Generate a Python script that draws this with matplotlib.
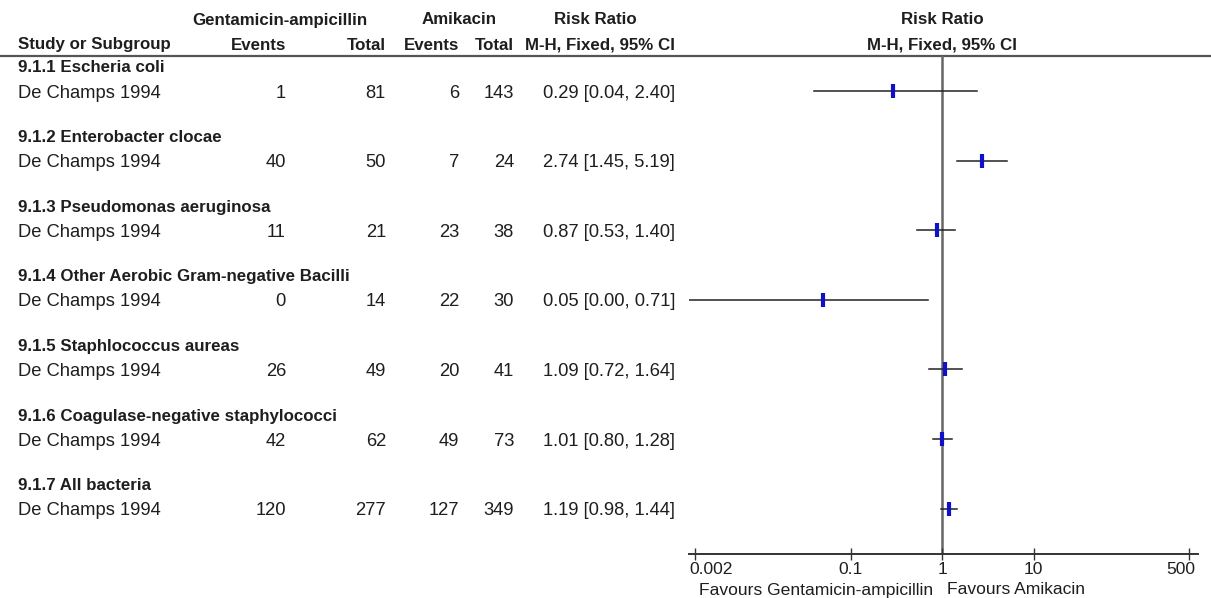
import matplotlib
matplotlib.use("Agg")
import matplotlib.pyplot as plt
import numpy as np

# ---- data -------------------------------------------------------------
subgroups = [
    "9.1.1 Escheria coli",
    "9.1.2 Enterobacter clocae",
    "9.1.3 Pseudomonas aeruginosa",
    "9.1.4 Other Aerobic Gram-negative Bacilli",
    "9.1.5 Staphlococcus aureas",
    "9.1.6 Coagulase-negative staphylococci",
    "9.1.7 All bacteria",
]
study = "De Champs 1994"
gent_events = [1, 40, 11, 0, 26, 42, 120]
gent_total = [81, 50, 21, 14, 49, 62, 277]
amik_events = [6, 7, 23, 22, 20, 49, 127]
amik_total = [143, 24, 38, 30, 41, 73, 349]
rr = [0.29, 2.74, 0.87, 0.05, 1.09, 1.01, 1.19]
ci_low = [0.04, 1.45, 0.53, 0.00, 0.72, 0.80, 0.98]
ci_high = [2.40, 5.19, 1.40, 0.71, 1.64, 1.28, 1.44]
tick_values = [0.002, 0.1, 1, 10, 500]
tick_labels = ["0.002", "0.1", "1", "10", "500"]
favours_left = "Favours Gentamicin-ampicillin"
favours_right = "Favours Amikacin"

# ---- fonts ------------------------------------------------------------
table_font = ["Liberation Sans", "DejaVu Sans"]
bold_fs, reg_fs_tab = 12.2, 13.2
regular = ["Liberation Sans", "DejaVu Sans"]
txt = "#1e1e1e"

# ---- figure -----------------------------------------------------------
W, H = 1211, 598
fig = plt.figure(figsize=(W / 100, H / 100), dpi=100)
fig.patch.set_facecolor("white")

# text layer in pixel coordinates
tx = fig.add_axes([0, 0, 1, 1])
tx.set_xlim(0, W)
tx.set_ylim(H, 0)
tx.axis("off")

def put(x, y, s, ha="left", bold=False, fam=None, size=None):
    fam = table_font if fam is None else fam
    size = (bold_fs if bold else reg_fs_tab) if size is None else size
    tx.text(x, y, s, ha=ha, va="center", fontsize=size, family=fam,
            fontweight="bold" if bold else "normal", color=txt)

# header
put(280, 20, "Gentamicin-ampicillin", ha="center", bold=True)
put(459, 20, "Amikacin", ha="center", bold=True)
put(595, 20, "Risk Ratio", ha="center", bold=True)
put(942, 20, "Risk Ratio", ha="center", bold=True)
put(18, 45, "Study or Subgroup", bold=True)
put(286, 45, "Events", ha="right", bold=True)
put(386, 45, "Total", ha="right", bold=True)
put(459, 45, "Events", ha="right", bold=True)
put(514, 45, "Total", ha="right", bold=True)
put(675, 45, "M-H, Fixed, 95% CI", ha="right", bold=True)
put(942, 45, "M-H, Fixed, 95% CI", ha="center", bold=True)
tx.plot([0, W], [55.5, 55.5], color="#555555", lw=1.6, solid_capstyle="butt")

row_y = [91 + 69.6 * i for i in range(len(subgroups))]
for i, y in enumerate(row_y):
    put(18, y - 23, subgroups[i], bold=True)
    put(18, y + 2, study)
    put(286, y + 2, str(gent_events[i]), ha="right")
    put(386, y + 2, str(gent_total[i]), ha="right")
    put(459, y + 2, str(amik_events[i]), ha="right")
    put(514, y + 2, str(amik_total[i]), ha="right")
    put(675, y + 2, f"{rr[i]:.2f} [{ci_low[i]:.2f}, {ci_high[i]:.2f}]", ha="right")

# ---- forest panel -----------------------------------------------------
x0, x1 = 689, 1198          # pixel extent of the scale line
y_top, y_axis = 56, 554
lo_lim, hi_lim = 10 ** -2.765, 10 ** 2.797
ax = fig.add_axes([x0 / W, 1 - y_axis / H, (x1 - x0) / W, (y_axis - y_top) / H])
ax.set_xscale("log")
ax.set_xlim(lo_lim, hi_lim)
ax.set_ylim(y_axis, y_top)
ax.patch.set_alpha(0)
for s in ("top", "left", "right"):
    ax.spines[s].set_visible(False)
ax.spines["bottom"].set_color("#333333")
ax.spines["bottom"].set_linewidth(1.4)
ax.set_yticks([])
ax.set_xticks(tick_values)
ax.set_xticklabels([])
ax.xaxis.set_minor_locator(matplotlib.ticker.NullLocator())
ax.tick_params(axis="x", direction="inout", length=9, width=1.0, color="#333333")

ax.axvline(1, color="#666666", lw=1.8, zorder=1)
for i, y in enumerate(row_y):
    lo = max(ci_low[i], lo_lim)
    ax.plot([lo, ci_high[i]], [y, y], color="#222222", lw=1.1, zorder=2)
    ax.plot([rr[i]], [y], marker="|", ms=10, mew=3, color="#1010C8", zorder=3)

# tick labels and favours captions
reg_fs = 12.6
for v, lab in zip(tick_values, tick_labels):
    px = x0 + (np.log10(v) - np.log10(lo_lim)) / (np.log10(hi_lim) - np.log10(lo_lim)) * (x1 - x0)
    if v == tick_values[0]:
        put(px - 6, 569, lab, ha="left", fam=regular, size=reg_fs)
    elif v == tick_values[-1]:
        put(px + 6, 569, lab, ha="right", fam=regular, size=reg_fs)
    else:
        put(px, 569, lab, ha="center", fam=regular, size=reg_fs)
put(933, 590, favours_left, ha="right", fam=regular, size=reg_fs)
put(947, 590, favours_right, ha="left", fam=regular, size=reg_fs)

fig.savefig("out.png", dpi=100, facecolor="white")
